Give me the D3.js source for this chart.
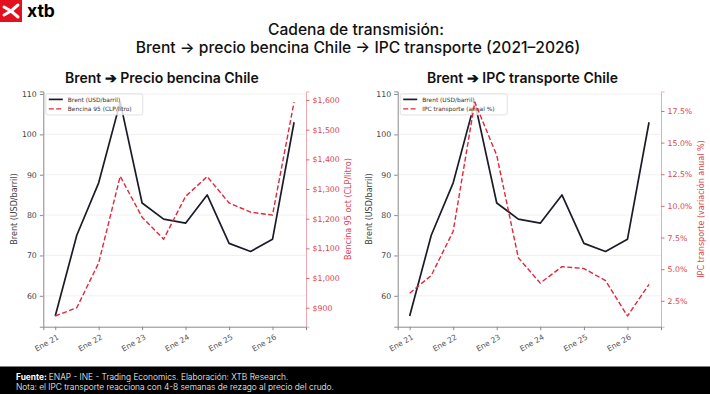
<!DOCTYPE html>
<html><head><meta charset="utf-8">
<script src="https://cdn.jsdelivr.net/npm/d3@7"></script>
<style>body{margin:0;background:#fff}svg{display:block}</style>
</head><body>
<svg id="c" width="710" height="394"></svg>
<script>
// ---- data ----
const periods = ["2021-01","2021-07","2022-01","2022-07","2023-01","2023-07","2024-01","2024-07","2025-01","2025-07","2026-01","2026-07"];
const brent   = [55, 75, 88, 108, 83, 79, 78, 85, 73, 71, 74, 103];
const bencina = [872, 900, 1051, 1343, 1205, 1131, 1275, 1342, 1253, 1222, 1212, 1593];
const ipcTransporte = [3.1, 4.5, 8.0, 18.2, 14.0, 5.9, 3.9, 5.2, 5.05, 4.1, 1.3, 3.8];
const xTickDates  = ["2021-01","2022-01","2023-01","2024-01","2025-01","2026-01"];
const xTickLabels = ["Ene 21","Ene 22","Ene 23","Ene 24","Ene 25","Ene 26"];
const brentTicks   = [60, 70, 80, 90, 100, 110];
const bencinaTicks = [900, 1000, 1100, 1200, 1300, 1400, 1500, 1600];
const ipcTicks     = [2.5, 5.0, 7.5, 10.0, 12.5, 15.0, 17.5];

const svg = d3.select("#c");
const parse = d3.timeParse("%Y-%m");
const dates = periods.map(parse);
const RED = "#e0283a", REDTXT = "#d9454f", DARK = "#1c1c28";
const AX = "DejaVu Sans, sans-serif";

function padDomain(arr){
  const mn = d3.min(arr), mx = d3.max(arr), r = mx - mn;
  return [mn - 0.05*r, mx + 0.05*r];
}
const tDom = padDomain(dates.map(d=>+d)).map(v=>new Date(v));

// ---- header ----
svg.append("rect").attr("x",0).attr("y",0).attr("width",22).attr("height",22).attr("fill","#e3101e");
svg.append("path").attr("d","M4,7 L11,11 L4,15 M11,11 L18,5 M11,11 L18,17")
  .attr("stroke","#fff").attr("stroke-width",3).attr("fill","none").attr("stroke-linecap","round");
svg.append("text").attr("x",27).attr("y",17).text("xtb")
  .attr("font-family","Inter, sans-serif").attr("font-weight",700).attr("font-size",17.5).attr("fill","#000");

svg.append("text").attr("x",356).attr("y",35).attr("text-anchor","middle")
  .attr("font-family","Inter, sans-serif").attr("font-weight",500).attr("font-size",15.6).attr("fill","#111")
  .text("Cadena de transmisión:");
svg.append("text").attr("x",358).attr("y",52.5).attr("text-anchor","middle")
  .attr("font-family","Inter, sans-serif").attr("font-weight",500).attr("font-size",15.6).attr("fill","#111")
  .text("Brent → precio bencina Chile → IPC transporte (2021–2026)");

// ---- footer ----
svg.append("rect").attr("x",0).attr("y",366.5).attr("width",710).attr("height",28).attr("fill","#000");
const f1 = svg.append("text").attr("x",16).attr("y",380).attr("font-family","Inter, sans-serif")
  .attr("font-size",8.4).attr("fill","#fff").attr("font-weight",300);
f1.append("tspan").attr("font-weight",700).text("Fuente: ");
f1.append("tspan").text("ENAP - INE - Trading Economics. Elaboración: XTB Research.");
svg.append("text").attr("x",16).attr("y",390).attr("font-family","Inter, sans-serif")
  .attr("font-size",8.4).attr("fill","#fff").attr("font-weight",300)
  .text("Nota: el IPC transporte reacciona con 4-8 semanas de rezago al precio del crudo.");

// ---- panels ----
function panel(cfg){
  const x0 = cfg.x0, x1 = cfg.x1, y0 = 91.4, y1 = 326.7;
  const g = svg.append("g");
  const x = d3.scaleTime().domain(tDom).range([x0, x1]);
  const yL = d3.scaleLinear().domain(padDomain(brent)).range([y1, y0]);
  const yR = d3.scaleLinear().domain(padDomain(cfg.values)).range([y1, y0]);

  // subtitle
  svg.append("text").attr("x",cfg.titleX).attr("y",82.5).attr("font-family","Inter, sans-serif")
    .attr("font-weight",600).attr("font-size",14).attr("fill","#111").text(cfg.title);

  // grid
  g.selectAll(".grid").data(brentTicks).join("line")
    .attr("x1",x0).attr("x2",x1).attr("y1",d=>yL(d)).attr("y2",d=>yL(d))
    .attr("stroke","#ebebeb").attr("stroke-width",0.7);

  // axes
  const axL = g.append("g").attr("transform",`translate(${x0},0)`)
    .call(d3.axisLeft(yL).tickValues(brentTicks).tickSize(3.5).tickPadding(3));
  axL.select(".domain").attr("stroke","#8a8a8a");
  axL.selectAll(".tick line").attr("stroke","#8a8a8a");
  axL.selectAll(".tick text").attr("font-family",AX).attr("font-size",7.8).attr("fill","#444");

  const axR = g.append("g").attr("transform",`translate(${x1},0)`)
    .call(d3.axisRight(yR).tickValues(cfg.ticks).tickFormat(cfg.fmt).tickSize(3.5).tickPadding(3));
  axR.select(".domain").attr("stroke","#f2a8ae");
  axR.selectAll(".tick line").attr("stroke","#e06a74");
  axR.selectAll(".tick text").attr("font-family",AX).attr("font-size",7.8).attr("fill",REDTXT);

  const axB = g.append("g").attr("transform",`translate(0,${y1})`)
    .call(d3.axisBottom(x).tickValues(xTickDates.map(parse)).tickFormat((d,i)=>xTickLabels[i]).tickSize(3.5).tickPadding(3));
  axB.select(".domain").attr("stroke","#8a8a8a");
  axB.selectAll(".tick line").attr("stroke","#8a8a8a");
  axB.selectAll(".tick text").attr("font-family",AX).attr("font-size",7.6).attr("fill","#555")
    .attr("text-anchor","end").attr("dy",null).attr("y",null)
    .attr("transform","translate(1,7) rotate(-30)").attr("dominant-baseline","hanging");

  // axis labels
  g.append("text").attr("transform",`translate(${x0-26},${(y0+y1)/2}) rotate(-90)`)
    .attr("text-anchor","middle").attr("font-family",AX).attr("font-size",8).attr("fill","#444")
    .text("Brent (USD/barril)");
  g.append("text").attr("transform",`translate(${cfg.rLabelX},${(y0+y1)/2}) rotate(-90)`)
    .attr("text-anchor","middle").attr("font-family",AX).attr("font-size",8).attr("fill",REDTXT)
    .text(cfg.rLabel);

  // brent line
  g.append("path").datum(brent).attr("fill","none").attr("stroke",DARK).attr("stroke-width",1.7)
    .attr("stroke-linejoin","round")
    .attr("d", d3.line().x((d,i)=>x(dates[i])).y(d=>yL(d)));

  // legend
  const lx = x0+2.5, ly = y0+2.5;
  const lg = g.append("g");
  lg.append("rect").attr("x",lx).attr("y",ly).attr("width",cfg.legW).attr("height",21)
    .attr("rx",2).attr("fill","#fff").attr("fill-opacity",0.82).attr("stroke","#d6d6d6").attr("stroke-width",0.7);
  lg.append("line").attr("x1",lx+3).attr("x2",lx+17).attr("y1",ly+5.5).attr("y2",ly+5.5)
    .attr("stroke",DARK).attr("stroke-width",1.7);
  lg.append("line").attr("x1",lx+3).attr("x2",lx+17).attr("y1",ly+15).attr("y2",ly+15)
    .attr("stroke",RED).attr("stroke-width",1.4).attr("stroke-dasharray","5,2.4");
  lg.append("text").attr("x",lx+22).attr("y",ly+7.6).attr("font-family",AX).attr("font-size",5.9).attr("fill","#333")
    .text("Brent (USD/barril)");
  lg.append("text").attr("x",lx+22).attr("y",ly+17.1).attr("font-family",AX).attr("font-size",5.9).attr("fill","#333")
    .text(cfg.legLabel);

  // red line (twin axis, on top)
  g.append("path").datum(cfg.values).attr("fill","none").attr("stroke",RED).attr("stroke-width",1.4)
    .attr("stroke-dasharray","5,2.4").attr("stroke-linejoin","round")
    .attr("d", d3.line().x((d,i)=>x(dates[i])).y(d=>yR(d)));
}

panel({x0:43.3, x1:306, title:"Brent ➔ Precio bencina Chile", titleX:65,
  values:bencina, ticks:bencinaTicks, fmt:d=>"$"+d3.format(",")(d),
  rLabel:"Bencina 95 oct (CLP/litro)", rLabelX:351, legLabel:"Bencina 95 (CLP/litro)", legW:97});
panel({x0:397.7, x1:661, title:"Brent ➔ IPC transporte Chile", titleX:427,
  values:ipcTransporte, ticks:ipcTicks, fmt:d=>d3.format(".1f")(d)+"%",
  rLabel:"IPC transporte (variación anual %)", rLabelX:704, legLabel:"IPC transporte (anual %)", legW:107});
</script>
</body></html>
